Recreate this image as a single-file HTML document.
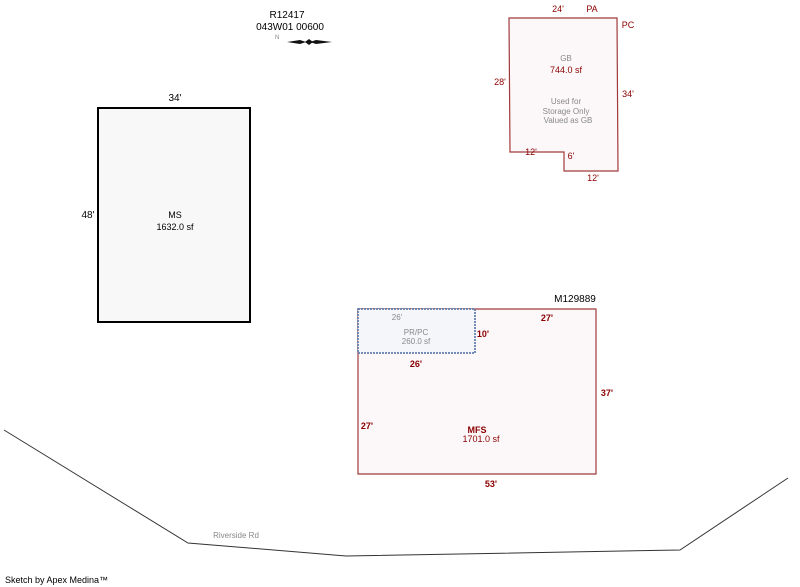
<!DOCTYPE html>
<html><head><style>
body{margin:0;background:#fff;}
svg{display:block;font-family:"Liberation Sans",Verdana,sans-serif;}
</style></head><body>
<svg width="800" height="587" viewBox="0 0 800 587" xmlns="http://www.w3.org/2000/svg">
<text x="287" y="18" font-size="10" text-anchor="middle">R12417</text>
<text x="290" y="30" font-size="10" text-anchor="middle">043W01  00600</text>
<text x="275" y="39" font-size="6" fill="#888">N</text>
<path d="M287,42 L300,40 L306,42 L300,44 Z M310,42 L316,40 L332,42 L316,44 Z" fill="#111"/>
<path d="M305,42 L309,39 L313,42 L309,45Z" fill="#111"/>

<rect x="98" y="108" width="152" height="214" fill="#f8f8f8" stroke="#000" stroke-width="2"/>
<text x="175" y="101" font-size="10" text-anchor="middle">34'</text>
<text x="88" y="218" font-size="10" text-anchor="middle">48'</text>
<text x="175" y="218" font-size="9" text-anchor="middle">MS</text>
<text x="175" y="230" font-size="9" text-anchor="middle">1632.0 sf</text>

<path d="M509,18 L617,18 L618,171 L564,171 L564,152 L510,152 Z" fill="#fcf8fa" stroke="#a03a3a" stroke-width="1.2"/>
<g font-size="9" fill="#8b0000">
<text x="558" y="12" text-anchor="middle">24'</text>
<text x="592" y="12" text-anchor="middle">PA</text>
<text x="628" y="28" text-anchor="middle">PC</text>
<text x="500" y="85" text-anchor="middle">28'</text>
<text x="628" y="97" text-anchor="middle">34'</text>
<text x="531" y="155" text-anchor="middle">12'</text>
<text x="571" y="159" text-anchor="middle">6'</text>
<text x="593" y="181" text-anchor="middle">12'</text>
<text x="566" y="73" text-anchor="middle">744.0 sf</text>
</g>
<g font-size="8" fill="#888" text-anchor="middle">
<text x="566" y="61">GB</text>
<text x="566" y="104">Used for</text>
<text x="566" y="114">Storage Only</text>
<text x="568" y="123">Valued as GB</text>
</g>

<path d="M358,309 L596,309 L596,474 L358,474 Z" fill="#fcf8fa" stroke="#a03a3a" stroke-width="1.2"/>
<rect x="358" y="309" width="117" height="44" fill="#f4f6fa" stroke="#4a6aa0" stroke-width="1.5" stroke-dasharray="2,1"/>
<text x="575" y="302" font-size="10" text-anchor="middle">M129889</text>
<g font-size="9" fill="#8b0000" font-weight="bold" text-anchor="middle">
<text x="547" y="321">27'</text>
<text x="483" y="337">10'</text>
<text x="416" y="367">26'</text>
<text x="607" y="396">37'</text>
<text x="367" y="429">27'</text>
<text x="477" y="433">MFS</text>
<text x="481" y="442" font-weight="normal">1701.0 sf</text>
<text x="491" y="487">53'</text>
</g>
<g font-size="8" fill="#888" text-anchor="middle">
<text x="397" y="320">26'</text>
<text x="416" y="335">PR/PC</text>
<text x="416" y="344">260.0 sf</text>
</g>

<polyline points="4,430 188,543 346,556 680,550 788,478" fill="none" stroke="#333" stroke-width="1"/>
<text x="236" y="538" font-size="8" fill="#888" text-anchor="middle">Riverside Rd</text>
<text x="5" y="583" font-size="9">Sketch by Apex Medina™</text>
</svg>
</body></html>
